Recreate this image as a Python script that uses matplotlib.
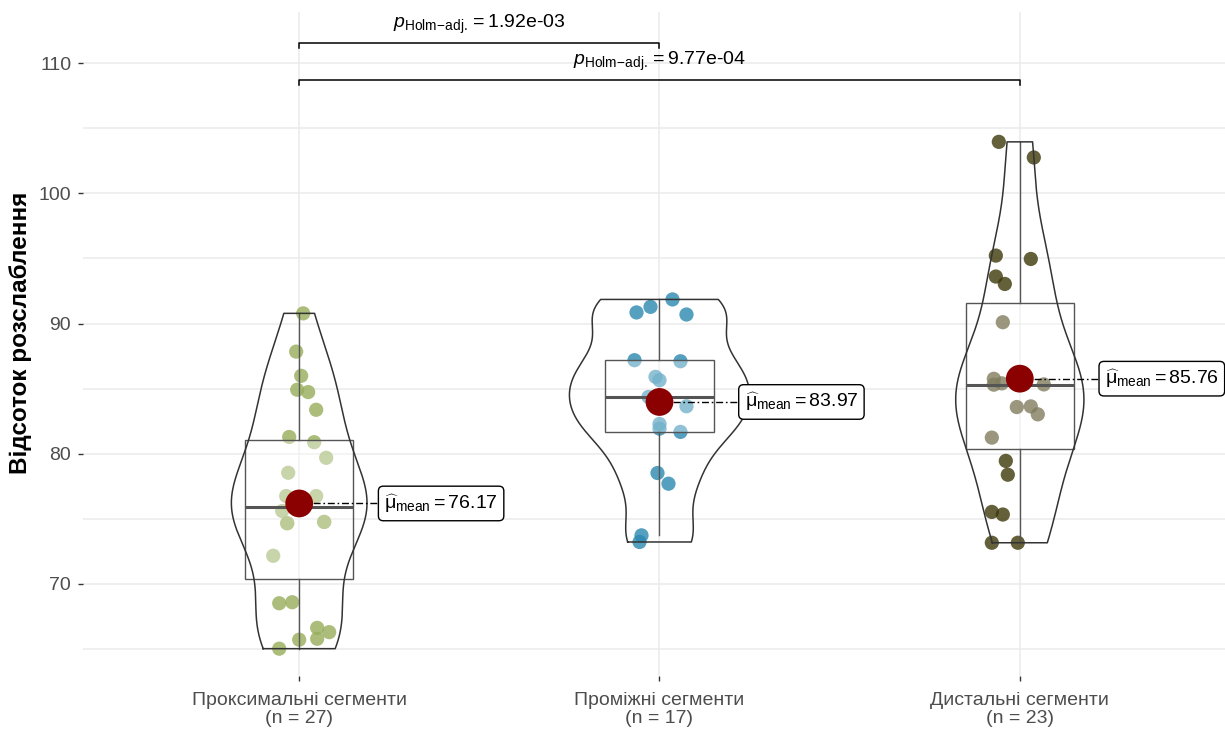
import numpy as np
import matplotlib
matplotlib.use("Agg")
import matplotlib.pyplot as plt

plt.rcParams['font.family'] = ['Liberation Sans', 'DejaVu Sans']
plt.rcParams['mathtext.fontset'] = 'custom'
plt.rcParams['mathtext.rm'] = 'Liberation Sans'
plt.rcParams['mathtext.it'] = 'Liberation Sans:italic'
plt.rcParams['mathtext.bf'] = 'Liberation Sans:bold'

# ---- data ----
categories = ["Проксимальні сегменти", "Проміжні сегменти", "Дистальні сегменти"]

proximal = [90.78, 87.84, 85.98, 84.91, 84.73, 83.37, 81.28, 80.88, 79.68,
            78.53, 76.74, 76.74, 75.59, 74.65, 74.75, 72.15, 68.50, 68.58,
            66.61, 66.28, 65.77, 65.70, 65.01, 75.90, 76.24, 74.65, 74.75]
intermediate = [91.85, 91.28, 90.85, 90.69, 87.18, 87.10, 85.90, 85.64, 84.36,
                83.64, 81.92, 81.67, 78.51, 77.69, 73.72, 73.21, 82.28]
distal = [103.96, 102.76, 95.22, 94.96, 93.61, 93.04, 90.10, 85.75, 85.40,
          85.30, 85.32, 83.58, 83.63, 83.02, 81.23, 79.44, 75.52, 75.32,
          73.15, 73.15, 78.38, 85.30, 85.34]
groups = [proximal, intermediate, distal]

# horizontal jitter of each point (pixels at 360.5 px per category)
jitter_proximal = [4, -3, 2, -2, 9, 17, -10, 15, 27, -11, -13, 17, -17, -12, 25,
                   -26, -20, -7, 18, 30, 18, 0, -20, -4, 3, -12, 25]
jitter_intermediate = [13, -9, -23, 27, -25, 21, -4, 0, -11, 27, 0, 21, -2, 9,
                       -18, -20, 0]
jitter_distal = [-21, 14, -24, 11, -24, -15, -17, -26, -18, -26, 24, -3, 11, 18,
                 -28, -14, -28, -17, -28, -2, -12, -2, 4]
jitters = [np.array(j) / 360.5 for j in (jitter_proximal, jitter_intermediate, jitter_distal)]

pairwise = [(1, 2, "1.92e-03"), (1, 3, "9.77e-04")]

point_colors = ["#97AD5A", "#2A88B0", "#3D3809"]

# ---- figure ----
W, H = 1225, 733
fig = plt.figure(figsize=(W / 100, H / 100), dpi=100)
left_px, right_px, top_px, bot_px = 83, 1236, 12, 676
ax = fig.add_axes([left_px / W, (H - bot_px) / H,
                   (right_px - left_px) / W, (bot_px - top_px) / H])
ax.set_xlim(0.4, 3.6)
ax.set_ylim(62.91, 113.94)

for s in ax.spines.values():
    s.set_visible(False)
ax.set_yticks([70, 80, 90, 100, 110])
ax.set_yticks(np.arange(65, 113, 10), minor=True)
ax.set_xticks([1, 2, 3])
ax.set_xticklabels([f"{c}\n(n = {len(g)})" for c, g in zip(categories, groups)],
                   fontsize=14, color="#4D4D4D", linespacing=1.05)
ax.tick_params(axis='y', labelsize=14, labelcolor="#4D4D4D", length=3.5,
               width=1, color="#333333", pad=5)
ax.tick_params(axis='y', which='minor', length=0)
ax.tick_params(axis='x', length=3.5, width=1, color="#333333", pad=8)
ax.grid(True, which='both', axis='y', color="#EBEBEB", lw=1.1, zorder=0)
ax.grid(True, which='major', axis='x', color="#EBEBEB", lw=1.1, zorder=0)
ax.set_axisbelow(True)
ax.set_ylabel("Відсоток розслаблення", fontsize=17.5, fontweight='bold')
ax.yaxis.set_label_coords((32 - left_px) / (right_px - left_px),
                          (bot_px - 332.5) / (bot_px - top_px))


def nrd0(x):
    x = np.asarray(x)
    sd = np.std(x, ddof=1)
    q75, q25 = np.percentile(x, [75, 25])
    lo = min(sd, (q75 - q25) / 1.34)
    return 0.9 * lo * len(x) ** (-0.2)


def kde(x, grid):
    x = np.asarray(x)
    bw = nrd0(x)
    z = (grid[:, None] - x[None, :]) / bw
    return np.exp(-0.5 * z ** 2).sum(axis=1) / (len(x) * bw * np.sqrt(2 * np.pi))


grids, dens = [], []
for g in groups:
    gr = np.linspace(min(g), max(g), 512)
    grids.append(gr)
    dens.append(kde(g, gr))
dmax = max(d.max() for d in dens)

for i, g in enumerate(groups):
    c = i + 1
    vals = np.asarray(g)
    # jittered points
    ax.scatter(c + jitters[i], vals, s=105, color=point_colors[i], alpha=0.8,
               edgecolors='none', zorder=2)
    # box and whiskers
    q1, med, q3 = np.percentile(vals, [25, 50, 75])
    iqr = q3 - q1
    lo_w = vals[vals >= q1 - 1.5 * iqr].min()
    hi_w = vals[vals <= q3 + 1.5 * iqr].max()
    bw_box = 0.15
    ax.add_patch(plt.Rectangle((c - bw_box, q1), 2 * bw_box, q3 - q1,
                               facecolor='white', alpha=0.35, edgecolor='none', zorder=3))
    ax.add_patch(plt.Rectangle((c - bw_box, q1), 2 * bw_box, q3 - q1,
                               facecolor='none', edgecolor='#555555', lw=1.0, zorder=3.1))
    ax.plot([c, c], [q3, hi_w], color='#555555', lw=1.0, zorder=3.1)
    ax.plot([c, c], [lo_w, q1], color='#555555', lw=1.0, zorder=3.1)
    ax.plot([c - bw_box, c + bw_box], [med, med], color='#555555', lw=2.2,
            solid_capstyle='butt', zorder=3.2)
    # violin outline (area scaled)
    half = 0.25 * dens[i] / dmax
    vx = np.concatenate([c - half, (c + half)[::-1], [c - half[0]]])
    vy = np.concatenate([grids[i], grids[i][::-1], [grids[i][0]]])
    ax.plot(vx, vy, color='#333333', lw=1.1, zorder=3.3)
    # mean marker and label
    m = vals.mean()
    ax.plot([c, c + 0.219], [m, m], color='black', lw=1.0,
            linestyle=(0, (5, 2, 1.2, 2)), zorder=4)
    ax.scatter([c], [m], s=400, color='#8B0000', edgecolors='none', zorder=5)
    ax.text(c + 0.236, m, r'$\widehat{\mathrm{μ}}_{\mathrm{mean}}=$' + f'{m:.2f}',
            ha='left', va='center', fontsize=14, color='black', zorder=6,
            bbox=dict(boxstyle='round,pad=0.3,rounding_size=0.25',
                      fc='white', ec='black', lw=1.0))

# pairwise comparison brackets
bracket_y = [111.56, 108.72]
for (a, b, p), yb in zip(pairwise, bracket_y):
    ax.plot([a, a, b, b], [yb - 0.4, yb, yb, yb - 0.4], color='black', lw=1.1,
            zorder=4, clip_on=False)
    ax.text((a + b) / 2, yb + 0.5,
            r'$\mathit{p}_{\mathrm{Holm}\!-\!\mathrm{adj.}}=$' + p,
            ha='center', va='bottom', fontsize=14, color='black')

fig.savefig("out.png", dpi=100, facecolor='white')
